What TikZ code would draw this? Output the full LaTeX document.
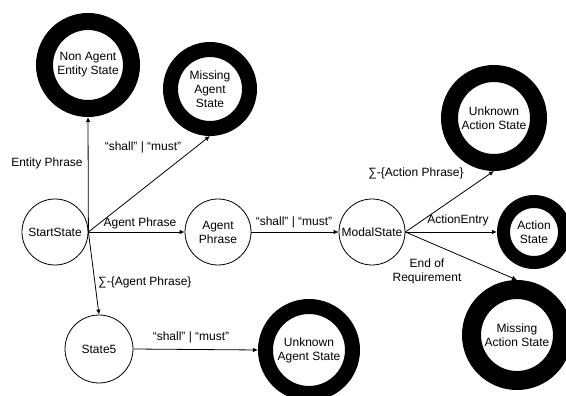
\documentclass[tikz,border=0pt]{standalone}
\usepackage{fontspec}
\setmainfont{Liberation Sans}
\usetikzlibrary{arrows.meta}
\begin{document}
\begin{tikzpicture}[x=1pt,y=-1pt,
  txt/.style={font=\fontsize{12}{14}\selectfont},
  state/.style={circle,draw,line width=0.8pt,minimum size=#1,inner sep=0pt,align=center,txt},
  final/.style n args={3}{circle,draw,line width=#2,minimum size=#1,outer sep=#3,inner sep=0pt,align=center,txt},
  lbl/.style={txt,inner sep=0pt,align=center},
  tr/.style={draw,line width=0.8pt,-{Latex[length=5pt,width=4.5pt]}}
]
\useasboundingbox (0,0) rectangle (566,396);
% states
\node[state=66pt] (start) at (55,232) {StartState};
\node[state=66pt] (agent) at (218,232) {Agent\\Phrase};
\node[state=66pt] (modal) at (372,232) {ModalState};
\node[state=68pt] (s5) at (99,349) {State5};
\node[final={87pt}{17pt}{8.5pt}] (nonagent) at (88,65) {Non Agent\\Entity State};
\node[final={79pt}{15pt}{7.5pt}] (missagent) at (210,89) {Missing\\Agent\\State};
\node[final={89pt}{17pt}{8.5pt}] (unkaction) at (494,118) {Unknown\\Action State};
\node[final={61pt}{13pt}{6.5pt}] (action) at (534,232) {Action\\State};
\node[final={91pt}{19pt}{9.5pt}] (missaction) at (517,335) {Missing\\Action State};
\node[final={87pt}{15pt}{7.5pt}] (unkagent) at (309,350) {Unknown\\Agent State};
% transitions
\path[tr] (start.east) -- (nonagent.south);
\path[tr] (start.east) -- (missagent.south);
\path[tr] (start.east) -- (agent.west);
\path[tr] (start.east) -- (s5.north);
\path[tr] (agent.east) -- (modal.west);
\path[tr] (s5.east) -- (unkagent.west);
\path[tr] (modal.east) -- (unkaction.south);
\path[tr] (modal.east) -- (action.west);
\path[tr] (modal.east) -- (missaction.north);
% labels
\node[lbl] (l1) at (47,163) {Entity Phrase};
\node[lbl] (l2) at (143,147) {“shall” | “must”};
\node[lbl] (l3) at (140,223) {Agent Phrase};
\node[lbl,anchor=west] (l4) at (98,282) {∑-\{Agent Phrase\}};
\node[lbl] (l5) at (191,337) {“shall” | “must”};
\node[lbl] (l6) at (294,222) {“shall” | “must”};
\node[lbl] (l7) at (416,173) {∑-\{Action Phrase\}};
\node[lbl] (l8) at (458,220) {ActionEntry};
\node[lbl] (l9) at (427,271) {End of\\Requirement};
\end{tikzpicture}
\end{document}
